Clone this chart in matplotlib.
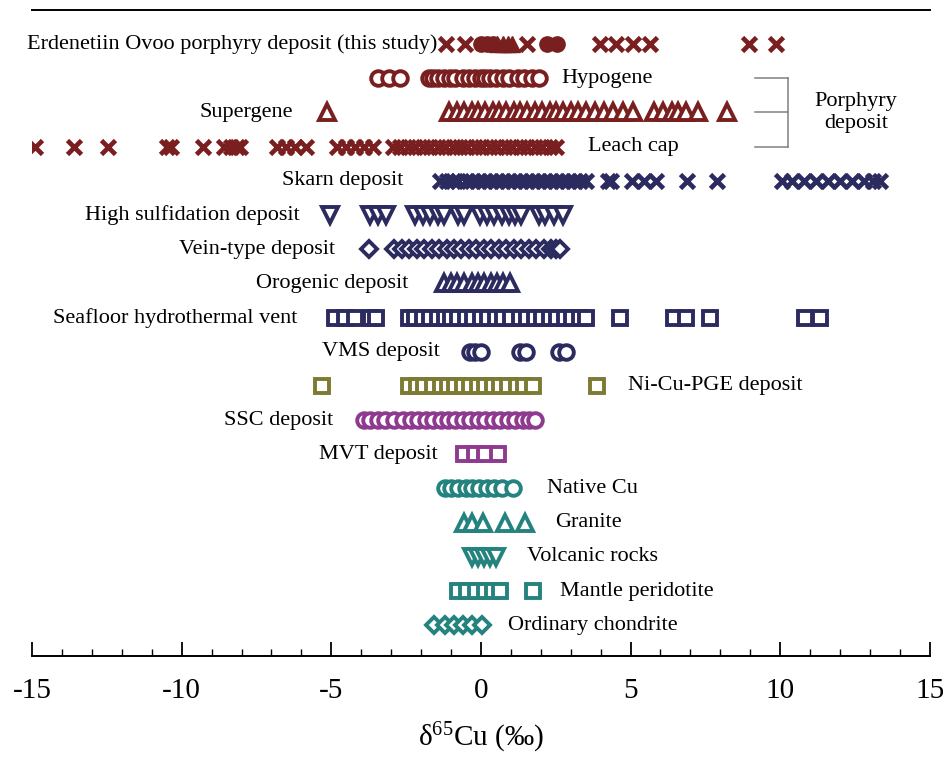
"""Cu isotope compilation: d65Cu strip chart by deposit type."""
import matplotlib

matplotlib.use("Agg")
import matplotlib.pyplot as plt
from matplotlib.ticker import MultipleLocator

plt.rcParams["font.family"] = ["Liberation Serif", "DejaVu Serif"]
plt.rcParams["axes.unicode_minus"] = False
plt.rcParams["mathtext.fontset"] = "stix"

# colours per group
RED = "#7a1f1f"
NAVY = "#2c2b5f"
OLIVE = "#7d7a33"
PURPLE = "#8e3a8e"
TEAL = "#25837f"

# --- data (d65Cu, permil) -------------------------------------------------
erdenet_cross = [-1.18, -0.53, 1.53, 3.98, 4.5, 5.08, 5.65, 8.95, 9.85]
erdenet_dot = [0.0, 0.2, 0.4, 2.2, 2.55]
erdenet_tri = [0.55, 0.75, 0.9, 1.05]

hypogene = [-3.44, -3.07, -2.7, -1.75, -1.6, -1.45, -1.25, -1.05, -0.85, -0.6,
            -0.4, -0.2, 0.0, 0.15, 0.3, 0.5, 0.73, 0.95, 1.24, 1.45, 1.7, 1.95]
supergene = [-5.15, -1.07, -0.8, -0.55, -0.3, -0.1, 0.15, 0.4, 0.6, 0.85, 1.1,
             1.3, 1.55, 1.8, 2.05, 2.3, 2.5, 2.75, 3.0, 3.25, 3.5, 3.8, 4.1,
             4.4, 4.75, 5.07, 5.8, 6.1, 6.4, 6.6, 6.85, 7.25, 8.22]
leach_cap = [-14.9, -13.6, -12.45, -10.5, -10.35, -9.3, -8.6, -8.35, -8.15,
             -8.05, -6.82, -6.5, -6.2, -5.84, -4.8, -4.5, -4.2, -3.9, -3.6,
             -2.95, -2.7, -2.45, -2.2, -1.95, -1.7, -1.45, -1.2, -0.95, -0.7,
             -0.45, -0.2, 0.05, 0.3, 0.55, 0.8, 1.05, 1.3, 1.55, 1.8, 2.05,
             2.3, 2.5]
skarn = [-1.37, -1.15, -0.95, -0.75, -0.5, -0.3, -0.1, 0.1, 0.3, 0.5, 0.7, 0.9,
         1.1, 1.3, 1.5, 1.7, 1.9, 2.1, 2.3, 2.5, 2.7, 2.9, 3.1, 3.3, 3.5, 4.25,
         4.35, 5.05, 5.45, 5.85, 6.88, 7.88, 10.05, 10.4, 10.8, 11.2, 11.6,
         12.0, 12.4, 12.8, 13.1, 13.33]
high_sulf = [-5.05, -3.72, -3.45, -3.16, -2.2, -1.95, -1.7, -1.45, -1.25, -0.75,
             -0.55, -0.04, 0.2, 0.45, 0.7, 0.95, 1.15, 1.34, 1.93, 2.15, 2.45,
             2.74]
vein = [-3.74, -2.9, -2.65, -2.4, -2.15, -1.9, -1.65, -1.4, -1.15, -0.9, -0.65,
        -0.4, -0.15, 0.1, 0.35, 0.6, 0.85, 1.1, 1.35, 1.6, 1.85, 2.1, 2.35,
        2.5, 2.65]
orogenic = [-1.22, -1.0, -0.8, -0.55, -0.3, -0.1, 0.1, 0.35, 0.55, 0.75, 0.97]
seafloor = [-4.88, -4.55, -4.22, -3.66, -3.5, -2.42, -2.2, -1.95, -1.7, -1.45,
            -1.2, -1.0, -0.75, -0.5, -0.25, 0.0, 0.25, 0.5, 0.75, 1.0, 1.3,
            1.55, 1.8, 2.05, 2.3, 2.55, 2.8, 3.05, 3.3, 3.52, 4.64, 6.45, 6.85,
            7.65, 10.83, 11.33]
vms = [-0.37, -0.2, 0.0, 1.3, 1.5, 2.6, 2.85]
ni_cu_pge = [-5.3, -2.42, -2.15, -1.9, -1.6, -1.35, -1.1, -0.85, -0.6, -0.35,
             -0.1, 0.15, 0.4, 0.65, 0.9, 1.2, 1.45, 1.75, 3.88]
ssc = [-3.92, -3.7, -3.45, -3.2, -2.9, -2.6, -2.35, -2.1, -1.85, -1.6, -1.35,
       -1.1, -0.85, -0.6, -0.35, -0.1, 0.15, 0.4, 0.65, 0.9, 1.15, 1.4, 1.6,
       1.8]
mvt = [-0.55, -0.2, 0.15, 0.58]
native_cu = [-1.2, -1.0, -0.75, -0.5, -0.3, -0.05, 0.2, 0.45, 0.7, 1.07]
granite = [-0.57, -0.3, 0.07, 0.8, 1.47]
volcanic = [-0.3, -0.1, 0.1, 0.3, 0.5]
mantle = [-0.75, -0.45, -0.15, 0.15, 0.4, 0.65, 1.75]
chondrite = [-1.58, -1.2, -0.9, -0.6, -0.3, 0.02]

# row order top to bottom: (values, marker, colour, label, label x, side)
rows = [
    (hypogene, "o", RED, "Hypogene", 2.7, "left"),
    (supergene, "^", RED, "Supergene", -6.28, "right"),
    (leach_cap, "x", RED, "Leach cap", 3.57, "left"),
    (skarn, "x", NAVY, "Skarn deposit", -2.6, "right"),
    (high_sulf, "v", NAVY, "High sulfidation deposit", -6.05, "right"),
    (vein, "D", NAVY, "Vein-type deposit", -4.88, "right"),
    (orogenic, "^", NAVY, "Orogenic deposit", -2.44, "right"),
    (seafloor, "s", NAVY, "Seafloor hydrothermal vent", -6.15, "right"),
    (vms, "o", NAVY, "VMS deposit", -1.37, "right"),
    (ni_cu_pge, "s", OLIVE, "Ni-Cu-PGE deposit", 4.9, "left"),
    (ssc, "o", PURPLE, "SSC deposit", -4.94, "right"),
    (mvt, "s", PURPLE, "MVT deposit", -1.44, "right"),
    (native_cu, "o", TEAL, "Native Cu", 2.2, "left"),
    (granite, "^", TEAL, "Granite", 2.47, "left"),
    (volcanic, "v", TEAL, "Volcanic rocks", 1.53, "left"),
    (mantle, "s", TEAL, "Mantle peridotite", 2.64, "left"),
    (chondrite, "D", TEAL, "Ordinary chondrite", 0.9, "left"),
]

SIZES = {"o": 10.5, "s": 9.5, "^": 11, "v": 11, "D": 8.5, "x": 9.5}
LABEL_SIZE = 16

fig = plt.figure(figsize=(9.43, 7.61), dpi=100)
ax = fig.add_axes([0.034, 0.138, 0.952, 0.849])

# this study row
ax.plot(erdenet_cross, [0] * len(erdenet_cross), "x", color=RED, ms=9.5,
        mew=3.4, ls="none")
ax.plot(erdenet_dot, [0] * len(erdenet_dot), "o", color=RED, ms=11, ls="none")
ax.plot(erdenet_tri, [0] * len(erdenet_tri), "^", color=RED, ms=11, ls="none")
ax.text(-1.47, 0, "Erdenetiin Ovoo porphyry deposit (this study)", ha="right",
        va="center", fontsize=LABEL_SIZE)

for i, (vals, mk, col, label, lx, ha) in enumerate(rows, start=1):
    if mk == "x":
        ax.plot(vals, [i] * len(vals), mk, color=col, ms=SIZES[mk], mew=3.4,
                ls="none")
    else:
        ax.plot(vals, [i] * len(vals), mk, ms=SIZES[mk], mew=2.8, mec=col,
                mfc="white", ls="none")
    ax.text(lx, i, label, ha=ha, va="center", fontsize=LABEL_SIZE)

# bracket for porphyry sub-groups
for yy in (1, 2, 3):
    ax.plot([9.15, 10.26], [yy, yy], color="#808080", lw=1.1)
ax.plot([10.26, 10.26], [1, 3], color="#808080", lw=1.1)
ax.text(12.53, 2, "Porphyry\ndeposit", ha="center", va="center",
        fontsize=LABEL_SIZE, linespacing=1.25)

ax.set_xlim(-15, 15)
ax.set_ylim(17.9, -1.0)
ax.set_xticks(range(-15, 16, 5))
ax.xaxis.set_minor_locator(MultipleLocator(1))
ax.tick_params(axis="x", which="major", direction="in", length=10, width=1.3,
               labelsize=21, pad=16)
ax.tick_params(axis="x", which="minor", direction="in", length=5, width=1.0)
ax.set_yticks([])
for side in ("left", "right"):
    ax.spines[side].set_visible(False)
ax.spines["bottom"].set_linewidth(1.4)
ax.spines["top"].set_linewidth(1.4)
ax.set_xlabel(r"$\mathregular{\delta^{65}}$Cu (‰)", fontsize=21, labelpad=12)

fig.savefig("out.png", dpi=100)
plt.close(fig)
